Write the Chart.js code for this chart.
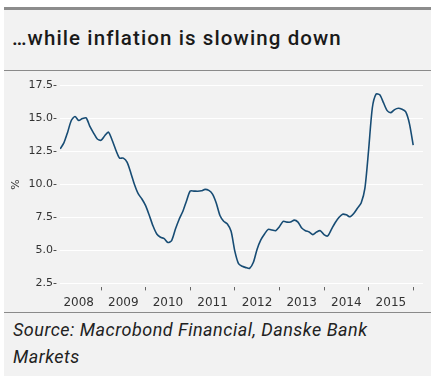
<!DOCTYPE html>
<html>
<head>
<meta charset="utf-8">
<script src="https://cdn.jsdelivr.net/npm/chart.js@4.4.1/dist/chart.umd.min.js"></script>
<style>
  html, body { margin: 0; padding: 0; background: #fff; }
  body { width: 431px; height: 376px; position: relative; overflow: hidden; }
  .panel {
    position: absolute; left: 4px; top: 7px; width: 427px; height: 369px;
    background: #f2f2f2; border-top: 3px solid #8c8c8c;
  }
  .title {
    position: absolute; left: 12px; top: 26px;
    font-family: Roboto, sans-serif; font-weight: 500; font-size: 20.5px;
    letter-spacing: 1.1px; color: #1a1a1a; white-space: nowrap;
  }
  .sep { position: absolute; left: 4px; width: 427px; height: 1px; background: #8a8a8a; }
  .source {
    position: absolute; left: 13px; top: 316px; width: 385px;
    font-family: Roboto, sans-serif; font-style: italic; font-size: 18px;
    letter-spacing: 0.5px; line-height: 27px; color: #222;
  }
  #wrap { position: absolute; left: 0; top: 72px; width: 431px; height: 240px; }
</style>
</head>
<body>
<div class="panel"></div>
<div class="title">…while inflation is slowing down</div>
<div class="sep" style="top:70px"></div>
<div id="wrap"><canvas id="chart" width="431" height="240"></canvas></div>
<div class="sep" style="top:312px"></div>
<div class="source">Source: Macrobond Financial, Danske Bank Markets</div>

<script>
// --- DONNEES ---
const yearLabels = ['2008', '2009', '2010', '2011', '2012', '2013', '2014', '2015'];
const yTicks = [2.5, 5.0, 7.5, 10.0, 12.5, 15.0, 17.5];

// inflation mensuelle, % (jan 2008 -> dec 2015)
const inflation2008 = [12.7, 13.15, 13.95, 14.85, 15.15, 14.85, 15.0, 15.05, 14.4, 13.9, 13.45, 13.35];
const inflation2009 = [13.7, 13.97, 13.35, 12.6, 12.0, 12.0, 11.7, 10.9, 10.0, 9.3, 8.9, 8.4];
const inflation2010 = [7.65, 6.85, 6.25, 6.0, 5.9, 5.6, 5.75, 6.6, 7.35, 7.95, 8.75, 9.5];
const inflation2011 = [9.5, 9.49, 9.52, 9.63, 9.55, 9.27, 8.6, 7.65, 7.22, 7.0, 6.45, 4.95];
const inflation2012 = [4.0, 3.8, 3.7, 3.65, 4.1, 5.1, 5.8, 6.25, 6.6, 6.55, 6.5, 6.8];
const inflation2013 = [7.2, 7.15, 7.15, 7.3, 7.15, 6.7, 6.5, 6.4, 6.2, 6.4, 6.5, 6.2];
const inflation2014 = [6.1, 6.6, 7.1, 7.5, 7.75, 7.7, 7.55, 7.8, 8.2, 8.6, 9.7, 12.6];
const inflation2015 = [15.8, 16.85, 16.8, 16.2, 15.6, 15.45, 15.68, 15.78, 15.7, 15.5, 14.6, 12.98];

const series = [inflation2008, inflation2009, inflation2010, inflation2011,
                inflation2012, inflation2013, inflation2014, inflation2015];

// points en fin de mois
const points = [];
series.forEach((yr, y) => {
    yr.forEach((v, m) => {
        points.push({ x: 2008 + y + (m + 1) / 12, y: v });
    });
});

const tickFont = { family: '"DejaVu Sans", sans-serif', size: 11 };

new Chart(document.getElementById('chart'), {
    type: 'line',
    data: {
        datasets: [{
            data: points,
            borderColor: '#174c74',
            borderWidth: 1.6,
            pointRadius: 0,
            tension: 0.25,
            fill: false
        }]
    },
    options: {
        responsive: false,
        animation: false,
        layout: { padding: { left: 4, top: 6, right: 8, bottom: 0 } },
        plugins: { legend: { display: false }, tooltip: { enabled: false } },
        scales: {
            x2: {
                type: 'linear', position: 'bottom', weight: 0,
                min: 2008.08, max: 2016.22,
                afterBuildTicks: s => { s.ticks = yearLabels.map((l, i) => ({ value: 2009 + i })); },
                afterFit: s => { s.height = 4; },
                ticks: { display: false },
                grid: { display: true, drawOnChartArea: false, drawTicks: true, tickLength: 3, tickColor: '#666', tickWidth: 1 },
                border: { display: false }
            },
            x: {
                type: 'linear', position: 'bottom', weight: 1,
                min: 2008.08, max: 2016.22,
                afterBuildTicks: s => { s.ticks = yearLabels.map((l, i) => ({ value: 2008.5 + i })); },
                afterFit: s => { s.height = 20.6; },
                ticks: {
                    autoSkip: false, maxRotation: 0, padding: -4, color: '#333',
                    font: { family: '"DejaVu Sans", sans-serif', size: 12 },
                    callback: v => yearLabels[Math.floor(v) - 2008]
                },
                grid: { display: false },
                border: { display: false }
            },
            y: {
                min: 2.2, max: 17.8,
                afterBuildTicks: s => { s.ticks = yTicks.map(v => ({ value: v })); },
                afterFit: s => { s.width = 56; },
                ticks: {
                    padding: 3, color: '#333', font: tickFont,
                    callback: v => v.toFixed(1) + '-'
                },
                grid: { color: '#ffffff', lineWidth: 1, drawTicks: false },
                border: { display: false },
                title: { display: true, text: '%', color: '#333', font: tickFont, padding: { top: 6, bottom: 0 } }
            }
        }
    }
});
</script>
</body>
</html>
